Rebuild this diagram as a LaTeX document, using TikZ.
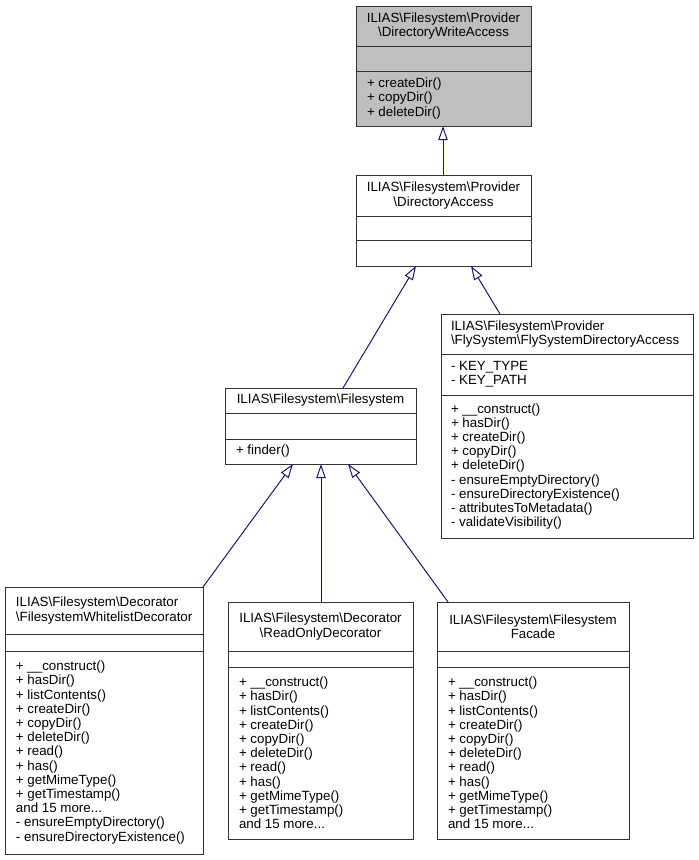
\documentclass[tikz,border=0pt]{standalone}
\usepackage{fontspec}
\setmainfont{Liberation Sans}
\usetikzlibrary{arrows.meta,fit,calc}
\definecolor{edgeblue}{HTML}{191970}
\definecolor{hdrgray}{HTML}{BFBFBF}
\newcommand\bs{\textbackslash}
\begin{document}
\begin{tikzpicture}[x=0.75pt,y=-0.75pt,
  cls/.style={draw=black!80, line width=0.75pt, inner sep=0pt, outer sep=0pt, fill=white},
  divline/.style={draw=black!80, line width=0.75pt},
  txt/.style={inner sep=0pt, outer sep=0pt, font=\fontsize{10}{10.65}\selectfont},
  inh/.style={draw=edgeblue, line width=0.75pt, -{Triangle[open,length=10.5pt,width=7pt]}}]
\useasboundingbox (0,0) rectangle (699,860);

% DirectoryWriteAccess
\node[cls, fill=hdrgray, fit={(356,6)(531,126)}] (dwa) {};
\draw[divline] (356,46) -- (531,46) (356,71) -- (531,71);
\node[txt, align=center] (dwaT) at (443.5,26) {ILIAS\bs Filesystem\bs Provider\\\bs DirectoryWriteAccess};
\node[txt, align=left, anchor=west] (dwaM) at (367,98.5) {+ createDir()\\+ copyDir()\\+ deleteDir()};

% DirectoryAccess
\node[cls, fit={(356,175)(531,266)}] (da) {};
\draw[divline] (356,216) -- (531,216) (356,240) -- (531,240);
\node[txt, align=center] (daT) at (443.5,195.5) {ILIAS\bs Filesystem\bs Provider\\\bs DirectoryAccess};

% FlySystemDirectoryAccess
\node[cls, fit={(441,314)(693,538)}] (fly) {};
\draw[divline] (441,354) -- (693,354) (441,395) -- (693,395);
\node[txt, align=left, anchor=west] (flyT) at (451,334) {ILIAS\bs Filesystem\bs Provider\\\bs FlySystem\bs FlySystemDirectoryAccess};
\node[txt, align=left, anchor=west] (flyA) at (451,374.5) {- KEY\_TYPE\\- KEY\_PATH};
\node[txt, align=left, anchor=west] (flyM) at (451,466.5) {+ \_\_construct()\\+ hasDir()\\+ createDir()\\+ copyDir()\\+ deleteDir()\\- ensureEmptyDirectory()\\- ensureDirectoryExistence()\\- attributesToMetadata()\\- validateVisibility()};

% Filesystem
\node[cls, fit={(225,388)(416,464)}] (fs) {};
\draw[divline] (225,413) -- (416,413) (225,439) -- (416,439);
\node[txt, align=center] (fsT) at (320.5,400.5) {ILIAS\bs Filesystem\bs Filesystem};
\node[txt, align=left, anchor=west] (fsM) at (236,451.5) {+ finder()};

% FilesystemWhitelistDecorator
\node[cls, fit={(5,587)(203,854)}] (wl) {};
\draw[divline] (5,634) -- (203,634) (5,651) -- (203,651);
\node[txt, align=left, anchor=west] (wlT) at (16,610.5) {ILIAS\bs Filesystem\bs Decorator\\\bs FilesystemWhitelistDecorator};
\node[txt, align=left, anchor=west] (wlM) at (16,752.5) {+ \_\_construct()\\+ hasDir()\\+ listContents()\\+ createDir()\\+ copyDir()\\+ deleteDir()\\+ read()\\+ has()\\+ getMimeType()\\+ getTimestamp()\\and 15 more...\\- ensureEmptyDirectory()\\- ensureDirectoryExistence()};

% ReadOnlyDecorator
\node[cls, fit={(228,602)(413,839)}] (ro) {};
\draw[divline] (228,651) -- (413,651) (228,667) -- (413,667);
\node[txt, align=center] (roT) at (320.5,626.5) {ILIAS\bs Filesystem\bs Decorator\\\bs ReadOnlyDecorator};
\node[txt, align=left, anchor=west] (roM) at (239,753) {+ \_\_construct()\\+ hasDir()\\+ listContents()\\+ createDir()\\+ copyDir()\\+ deleteDir()\\+ read()\\+ has()\\+ getMimeType()\\+ getTimestamp()\\and 15 more...};

% FilesystemFacade
\node[cls, fit={(437,602)(629,839)}] (fa) {};
\draw[divline] (437,651) -- (629,651) (437,667) -- (629,667);
\node[txt, align=center] (faT) at (533,626.5) {ILIAS\bs Filesystem\bs Filesystem\\Facade};
\node[txt, align=left, anchor=west] (faM) at (448,753) {+ \_\_construct()\\+ hasDir()\\+ listContents()\\+ createDir()\\+ copyDir()\\+ deleteDir()\\+ read()\\+ has()\\+ getMimeType()\\+ getTimestamp()\\and 15 more...};

% inheritance edges
\draw[inh] ($(da.north west)+(87,0)$) -- ($(dwa.south west)+(87,0)$);
\draw[inh] ($(fs.north west)+(118,0)$) -- ($(da.south west)+(60,0)$);
\draw[inh] ($(fly.north west)+(59,0)$) -- ($(da.south west)+(115,0)$);
\draw[inh] (wl.north east) -- ($(fs.south west)+(68,0)$);
\draw[inh] ($(ro.north west)+(93,0)$) -- ($(fs.south west)+(96,0)$);
\draw[inh] ($(fa.north west)+(11,0)$) -- ($(fs.south west)+(123,0)$);
\end{tikzpicture}
\end{document}
